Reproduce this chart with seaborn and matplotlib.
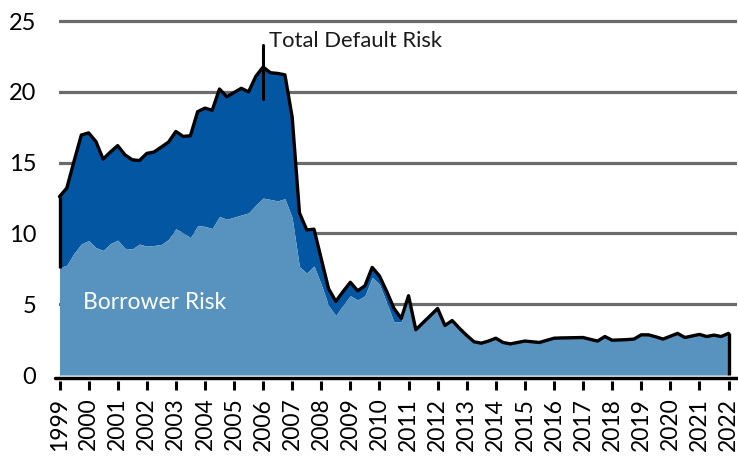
import numpy as np
import pandas as pd
import matplotlib
matplotlib.use("Agg")
import matplotlib.pyplot as plt
import seaborn as sns

# ---------------- data (quarterly, 1999Q1 - 2022Q1) ----------------
quarters = [f"{y}Q{q}" for y in range(1999, 2023) for q in range(1, 5)][:93]

total_risk = [
    12.6, 13.2, 15.1, 16.95, 17.1, 16.5, 15.25, 15.75, 16.2, 15.55,
    15.2, 15.15, 15.65, 15.75, 16.1, 16.45, 17.2, 16.85, 16.9, 18.6,
    18.85, 18.7, 20.2, 19.65, 19.95, 20.25, 20.0, 21.1, 21.75, 21.35,
    21.3, 21.2, 18.2, 11.45, 10.25, 10.3, 8.2, 6.1, 5.2, 5.9,
    6.55, 5.95, 6.3, 7.6, 7.0, 5.9, 4.7, 4.0, 5.6, 3.2,
    3.7, 4.2, 4.7, 3.5, 3.85, 3.3, 2.8, 2.35, 2.25, 2.4,
    2.6, 2.3, 2.2, 2.3, 2.4, 2.35, 2.3, 2.45, 2.6, 2.62,
    2.63, 2.64, 2.65, 2.52, 2.4, 2.72, 2.46, 2.48, 2.5, 2.54,
    2.84, 2.84, 2.7, 2.54, 2.74, 2.94, 2.65, 2.76, 2.87, 2.72,
    2.82, 2.72, 2.94,
]

borrower_risk = [
    7.58, 7.75, 8.6, 9.25, 9.5, 9.0, 8.8, 9.28, 9.53, 8.95,
    8.9, 9.25, 9.1, 9.15, 9.22, 9.58, 10.33, 10.05, 9.7, 10.55,
    10.5, 10.35, 11.2, 11.0, 11.15, 11.3, 11.45, 12.0, 12.5, 12.4,
    12.3, 12.45, 11.1, 7.65, 7.2, 7.7, 6.4, 4.9, 4.2, 4.95,
    5.6, 5.3, 5.6, 6.9, 6.4, 5.1, 3.75, 3.75, 5.5, 3.2,
    3.7, 4.2, 4.7, 3.5, 3.85, 3.3, 2.8, 2.35, 2.25, 2.4,
    2.6, 2.3, 2.2, 2.3, 2.4, 2.35, 2.3, 2.45, 2.6, 2.62,
    2.63, 2.64, 2.65, 2.52, 2.4, 2.72, 2.46, 2.48, 2.5, 2.54,
    2.84, 2.84, 2.7, 2.54, 2.74, 2.94, 2.65, 2.76, 2.87, 2.72,
    2.82, 2.72, 2.94,
]

tick_years = list(range(1999, 2023))
tick_labels = [str(y) for y in tick_years]
y_ticks = [0, 5, 10, 15, 20, 25]

# ---------------- styling ----------------
sns.set_theme(style="white")
plt.rcParams['font.family'] = ['Lato', 'DejaVu Sans']

DARK = "#0357a2"
LIGHT = "#5893bf"
GRID = "#6b6b6b"

x = np.array([int(s[:4]) + (int(s[-1]) - 1) / 4 for s in quarters])
df = pd.DataFrame({"x": x, "total": total_risk, "borrower": borrower_risk})

W, H = 738, 457
ax_left, ax_right = 58.5, 737.5
ax_bottom, ax_top = 380.7, 18.2
fig = plt.figure(figsize=(W / 100, H / 100), dpi=100)
ax = fig.add_axes([ax_left / W, 1 - ax_bottom / H,
                   (ax_right - ax_left) / W, (ax_bottom - ax_top) / H])

ax.fill_between(df["x"], df["borrower"], df["total"], color=DARK, lw=0, zorder=2)
ax.fill_between(df["x"], 0, df["borrower"], color=LIGHT, lw=0, zorder=2)
sns.lineplot(data=df, x="x", y="total", color="black", lw=2.4, ax=ax,
             zorder=4, clip_on=False)
ax.vlines(df["x"].iloc[0], df["borrower"].iloc[0], df["total"].iloc[0],
          color="black", lw=2.4, zorder=4, clip_on=False)
ax.vlines(df["x"].iloc[-1], 0, df["total"].iloc[-1],
          color="black", lw=2.4, zorder=4, clip_on=False)

ppy = (728.5 - 59.5) / 23.0
ax.set_xlim(1999 - (59.5 - ax_left) / ppy, 2022 + (ax_right - 728.5) / ppy)
ax.set_ylim(-0.40, 25.2)
ax.set_yticks(y_ticks)
ax.set_yticklabels([str(v) for v in y_ticks])
ax.set_xticks(tick_years)
ax.set_xticklabels(tick_labels, rotation=90)
ax.set_xlabel("")
ax.set_ylabel("")

ax.set_axisbelow(True)
ax.yaxis.grid(True, color=GRID, lw=2.3)
ax.get_ygridlines()[0].set_visible(False)
ax.xaxis.grid(False)

for s in ["left", "top", "right", "bottom"]:
    ax.spines[s].set_visible(False)

# x axis baseline, slightly below the zero level
span = ax_right - ax_left
ax.axhline(-0.22, xmin=(55 - ax_left) / span, xmax=(738 - ax_left) / span,
           color="black", lw=2.45, clip_on=False, zorder=5)

ax.tick_params(axis="x", direction="out", length=6.7, width=2.2, color="black",
               pad=5.5, labelsize=16.5, labelcolor="black", bottom=True)
ax.tick_params(axis="y", length=0, pad=16, labelsize=17, labelcolor="black")

# annotations
peak = int(np.argmax(df["total"].values))
xp = df["x"].iloc[peak]
ax.plot([xp, xp], [19.5, 23.3], color="black", lw=2.2, zorder=6)
ax.text(xp + 0.2, 23.6, "Total Default Risk", ha="left", va="center",
        fontsize=15.8, color="#1a1a1a")
ax.text(1999.81, 5.15, "Borrower Risk", ha="left", va="center",
        fontsize=16.5, color="white", zorder=7)

fig.savefig("out.png", dpi=100)
